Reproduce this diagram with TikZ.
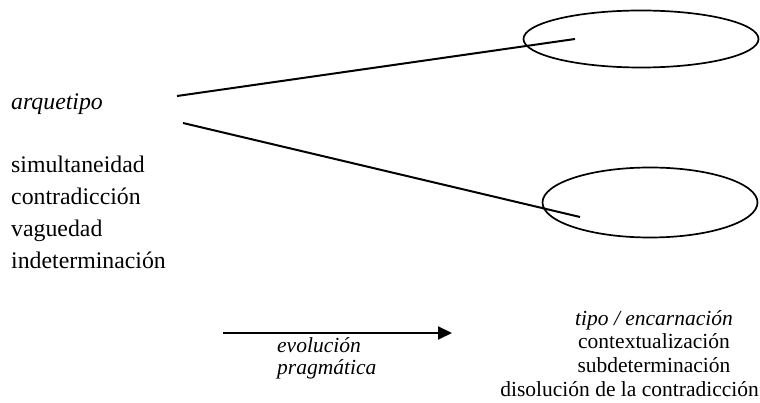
\documentclass[tikz,border=0pt]{standalone}
\usepackage{fontspec}
\setmainfont{Liberation Serif}
\usetikzlibrary{shapes.geometric,arrows.meta}
\begin{document}
\begin{tikzpicture}[x=1pt,y=-1pt,
  txt/.style={inner sep=0pt,font=\fontsize{21.5}{24}\selectfont},
  bigtxt/.style={inner sep=0pt,font=\fontsize{23.8}{25}\selectfont},
  oval/.style={draw,ellipse,line width=1.7pt,inner sep=0pt},
  ln/.style={line width=2pt}]
\useasboundingbox (0,0) rectangle (760,403);
% ellipses
\node[oval,minimum width=235pt,minimum height=57pt] (e1) at (641,39) {};
\node[oval,minimum width=215pt,minimum height=70pt] (e2) at (650,202.5) {};
% left texts
\node[bigtxt,anchor=base west] (arq) at (11,110) {\itshape arquetipo};
\node[bigtxt,anchor=base west] (sim) at (11,173) {simultaneidad};
\node[bigtxt,anchor=base west] (con) at (11,205) {contradicción};
\node[bigtxt,anchor=base west] (vag) at (11,237) {vaguedad};
\node[bigtxt,anchor=base west] (ind) at (11,269) {indeterminación};
% connector coordinates
\coordinate (s1) at (177,96);
\coordinate (t1) at (575,39);
\coordinate (s2) at (183,123);
\coordinate (t2) at (580,217);
\draw[ln] (s1) -- (t1);
\draw[ln] (s2) -- (t2);
% arrow
\coordinate (a1) at (223,333);
\coordinate (a2) at (452,333);
\draw[line width=2pt,-{Triangle[length=14pt,width=13pt]}] (a1) -- (a2);
\node[txt,anchor=base west] (evo) at (277,352) {\itshape evolución};
\node[txt,anchor=base west] (pra) at (277,374) {\itshape pragmática};
% right texts
\node[txt,anchor=base] (tip) at (654,325) {\itshape tipo / encarnación};
\node[txt,anchor=base] (ctx) at (654,348) {contextualización};
\node[txt,anchor=base] (sub) at (654,372) {subdeterminación};
\node[txt,anchor=base east] (dis) at (759,396) {disolución de la contradicción};
\end{tikzpicture}
\end{document}
